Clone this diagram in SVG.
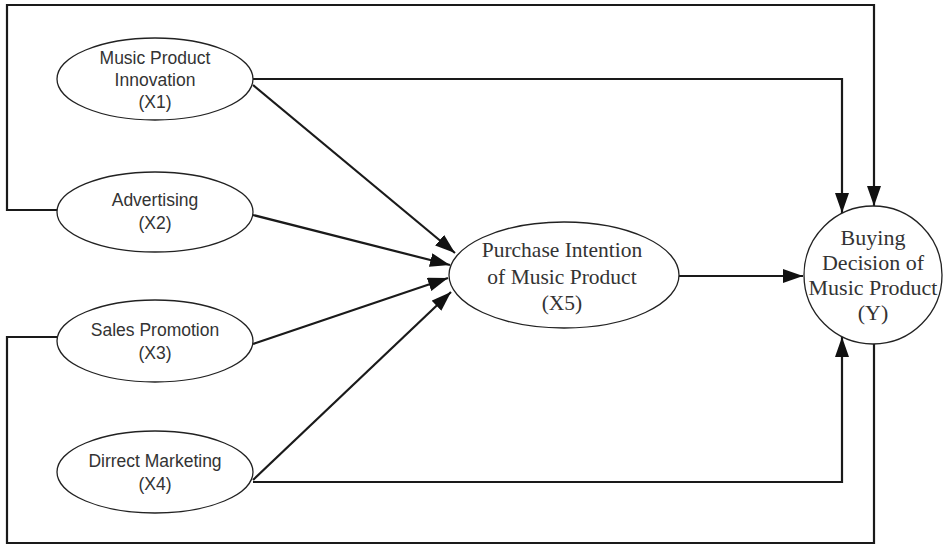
<svg xmlns="http://www.w3.org/2000/svg" width="944" height="545" viewBox="0 0 944 545">
<defs>
<marker id="arr" markerUnits="userSpaceOnUse" markerWidth="20" markerHeight="14" refX="20" refY="7" orient="auto">
<path d="M0,0 L20,7 L0,14 z" fill="#111"/>
</marker>
<style>
.node{fill:#fff;stroke:#222;stroke-width:1.3}
.sans{font-family:"Liberation Sans",Arial,sans-serif;font-size:17.5px;fill:#333;text-anchor:middle}
.serif{font-family:"Liberation Serif","Times New Roman",serif;font-size:21.5px;fill:#333;text-anchor:middle}
.conn{fill:none;stroke:#1a1a1a;stroke-width:2.2}
</style>
</defs>
<rect width="944" height="545" fill="#fff"/>
<g id="connectors">
<path class="conn" d="M57,210 L7,210 L7,5 L874,5 L874,206" marker-end="url(#arr)"/>
<path class="conn" d="M253,79 L842,79 L842,213" marker-end="url(#arr)"/>
<path class="conn" d="M57,337 L7,337 L7,543 L874,543 L874,344"/>
<path class="conn" d="M253,482 L842,482 L842,337" marker-end="url(#arr)"/>
<path class="conn" d="M253,85 L455,253" marker-end="url(#arr)"/>
<path class="conn" d="M253,215 L450,265" marker-end="url(#arr)"/>
<path class="conn" d="M253,344 L448,278" marker-end="url(#arr)"/>
<path class="conn" d="M253,480 L451,292" marker-end="url(#arr)"/>
<path class="conn" d="M679,276 L803,276" marker-end="url(#arr)"/>
</g>
<g id="X1">
<ellipse class="node" cx="155" cy="79" rx="98" ry="41"/>
<text class="sans" x="155" y="64">Music Product</text>
<text class="sans" x="155" y="86">Innovation</text>
<text class="sans" x="155" y="108">(X1)</text>
</g>
<g id="X2">
<ellipse class="node" cx="155" cy="212" rx="98" ry="40"/>
<text class="sans" x="155" y="206">Advertising</text>
<text class="sans" x="155" y="229">(X2)</text>
</g>
<g id="X3">
<ellipse class="node" cx="155" cy="341" rx="98" ry="41"/>
<text class="sans" x="155" y="336">Sales Promotion</text>
<text class="sans" x="155" y="359">(X3)</text>
</g>
<g id="X4">
<ellipse class="node" cx="155" cy="472" rx="98" ry="41"/>
<text class="sans" x="155" y="467">Dirrect Marketing</text>
<text class="sans" x="155" y="490">(X4)</text>
</g>
<g id="X5">
<ellipse class="node" cx="564" cy="275" rx="115" ry="53"/>
<text class="serif" x="562" y="257">Purchase Intention</text>
<text class="serif" x="562" y="284">of Music Product</text>
<text class="serif" x="562" y="310">(X5)</text>
</g>
<g id="Y">
<circle class="node" cx="873" cy="275" r="69"/>
<text class="serif" x="873" y="245" style="font-size:22px">Buying</text>
<text class="serif" x="873" y="270" style="font-size:22px">Decision of</text>
<text class="serif" x="873" y="295" style="font-size:22px">Music Product</text>
<text class="serif" x="873" y="320" style="font-size:22px">(Y)</text>
</g>
</svg>
